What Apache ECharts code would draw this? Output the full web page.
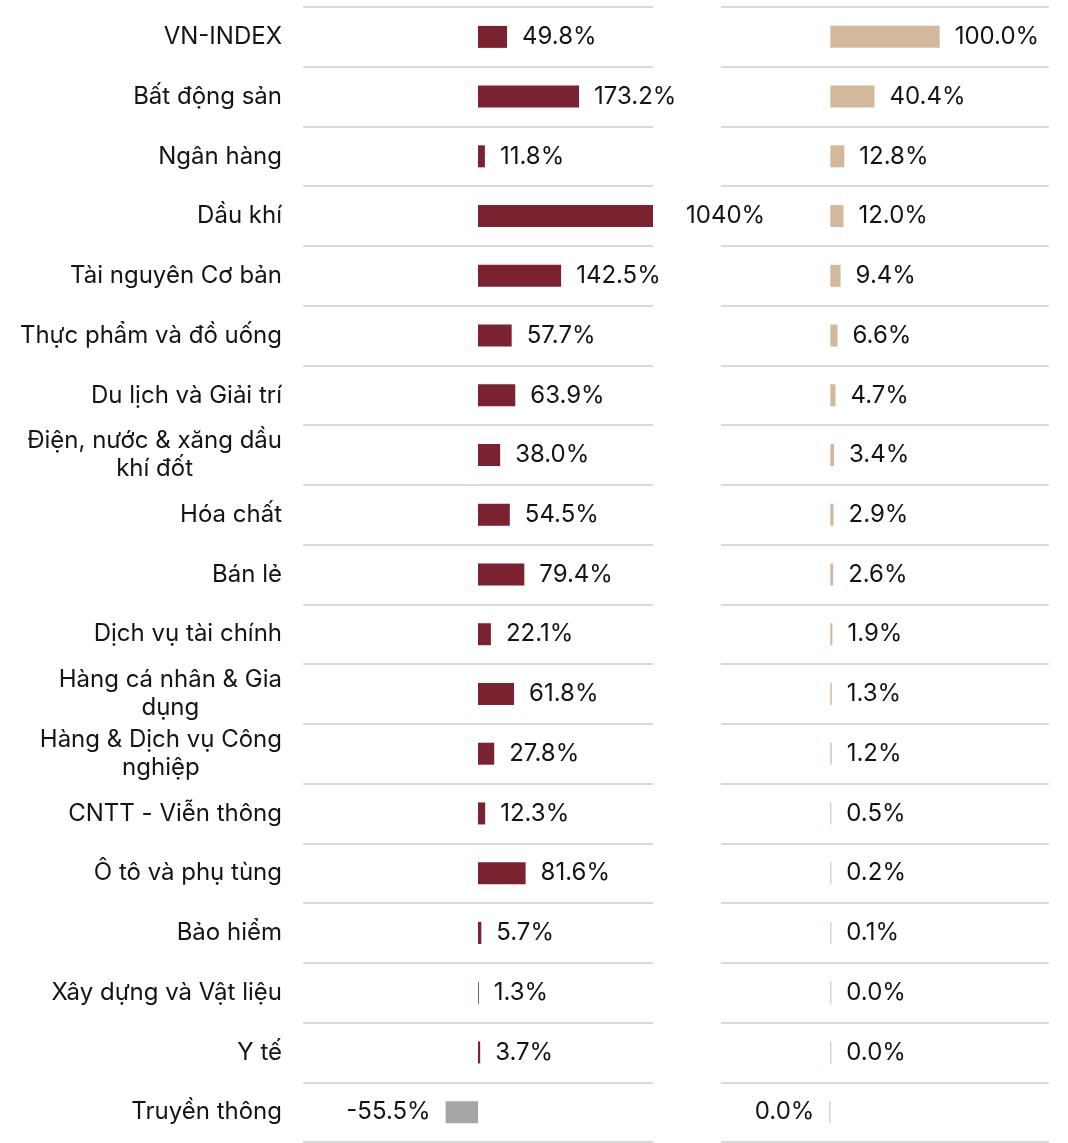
<!DOCTYPE html>
<html>
<head>
<meta charset="utf-8">
<style>
    html, body { margin: 0; padding: 0; background: #fff; }
    #chart { width: 1068px; height: 1143px; }
</style>
<script src="https://cdn.jsdelivr.net/npm/echarts@6/dist/echarts.min.js"></script>
</head>
<body>
<div id="chart"></div>
<script>
    // danh mục ngành
    const categories = [
        'VN-INDEX',
        'Bất động sản',
        'Ngân hàng',
        'Dầu khí',
        'Tài nguyên Cơ bản',
        'Thực phẩm và đồ uống',
        'Du lịch và Giải trí',
        'Điện, nước & xăng dầu khí đốt',
        'Hóa chất',
        'Bán lẻ',
        'Dịch vụ tài chính',
        'Hàng cá nhân & Gia dụng',
        'Hàng & Dịch vụ Công nghiệp',
        'CNTT - Viễn thông',
        'Ô tô và phụ tùng',
        'Bảo hiểm',
        'Xây dựng và Vật liệu',
        'Y tế',
        'Truyền thông'
    ]
    // cột trái
    const leftValues = [49.8, 173.2, 11.8, 1040, 142.5, 57.7, 63.9, 38.0, 54.5, 79.4,
        22.1, 61.8, 27.8, 12.3, 81.6, 5.7, 1.3, 3.7, -55.5]
    // cột phải
    const rightValues = [100.0, 40.4, 12.8, 12.0, 9.4, 6.6, 4.7, 3.4, 2.9, 2.6,
        1.9, 1.3, 1.2, 0.5, 0.2, 0.1, 0.0, 0.0, -0.01]

    const leftMin = -300, leftMax = 300
    const rightMin = -100, rightMax = 200

    const FONT = 'Inter, "Noto Sans", sans-serif'
    const FONT_SIZE = 24

    function fmt(v) {
        let s = Math.abs(v) >= 1000 ? Math.round(v).toString() : v.toFixed(1)
        if (s === '-0.0') s = '0.0'
        return s + '%'
    }

    // xuống dòng theo từ
    function wrap(name, maxChars) {
        const words = name.split(' ')
        const lines = []
        let cur = ''
        words.forEach(w => {
            const next = cur ? cur + ' ' + w : w
            if (next.length > maxChars && cur) {
                lines.push(cur)
                cur = w
            } else {
                cur = next
            }
        })
        lines.push(cur)
        return lines.map(l => '{c|' + l + '}').join('\n')
    }

    const myChart = echarts.init(document.getElementById('chart'))

    const labelBase = {
        show: true,
        fontFamily: FONT,
        fontSize: FONT_SIZE,
        color: '#141414',
        distance: 15,
        formatter: p => fmt(p.value)
    }

    const leftData = leftValues.map(v => ({
        value: v,
        itemStyle: { color: v < 0 ? '#A6A6A6' : '#7B2230' },
        label: {
            position: v < 0 ? 'left' : 'right',
            offset: v > leftMax ? [18, 0] : [0, 0]
        }
    }))
    const rightData = rightValues.map(v => ({
        value: v,
        label: { position: v < 0 ? 'left' : 'right' }
    }))

    const gridLine = {
        show: true,
        lineStyle: { color: '#D9D9D9', width: 2 }
    }

    const option = {
        animation: false,
        backgroundColor: '#fff',
        grid: [
            { left: 303, width: 350, top: 7, height: 1135 },
            { left: 721, width: 328, top: 7, height: 1135 }
        ],
        xAxis: [
            { type: 'value', gridIndex: 0, min: leftMin, max: leftMax, show: false },
            { type: 'value', gridIndex: 1, min: rightMin, max: rightMax, show: false }
        ],
        yAxis: [
            {
                type: 'category',
                gridIndex: 0,
                data: categories,
                inverse: true,
                axisLine: { show: false, onZero: false },
                axisTick: { show: false },
                splitLine: gridLine,
                axisLabel: {
                    margin: 21,
                    formatter: name => wrap(name, 21),
                    rich: {
                        c: {
                            align: 'center',
                            fontFamily: FONT,
                            fontSize: FONT_SIZE,
                            lineHeight: 28,
                            color: '#141414'
                        }
                    }
                }
            },
            {
                type: 'category',
                gridIndex: 1,
                data: categories,
                inverse: true,
                axisLine: { show: false, onZero: false },
                axisTick: { show: false },
                axisLabel: { show: false },
                splitLine: gridLine
            }
        ],
        series: [
            {
                type: 'bar',
                xAxisIndex: 0,
                yAxisIndex: 0,
                barWidth: 22,
                clip: true,
                data: leftData,
                label: labelBase
            },
            {
                type: 'bar',
                xAxisIndex: 1,
                yAxisIndex: 1,
                barWidth: 22,
                barMinHeight: 1,
                itemStyle: { color: '#D3B99B' },
                data: rightData,
                label: labelBase
            }
        ]
    }

    myChart.setOption(option)
</script>
</body>
</html>
